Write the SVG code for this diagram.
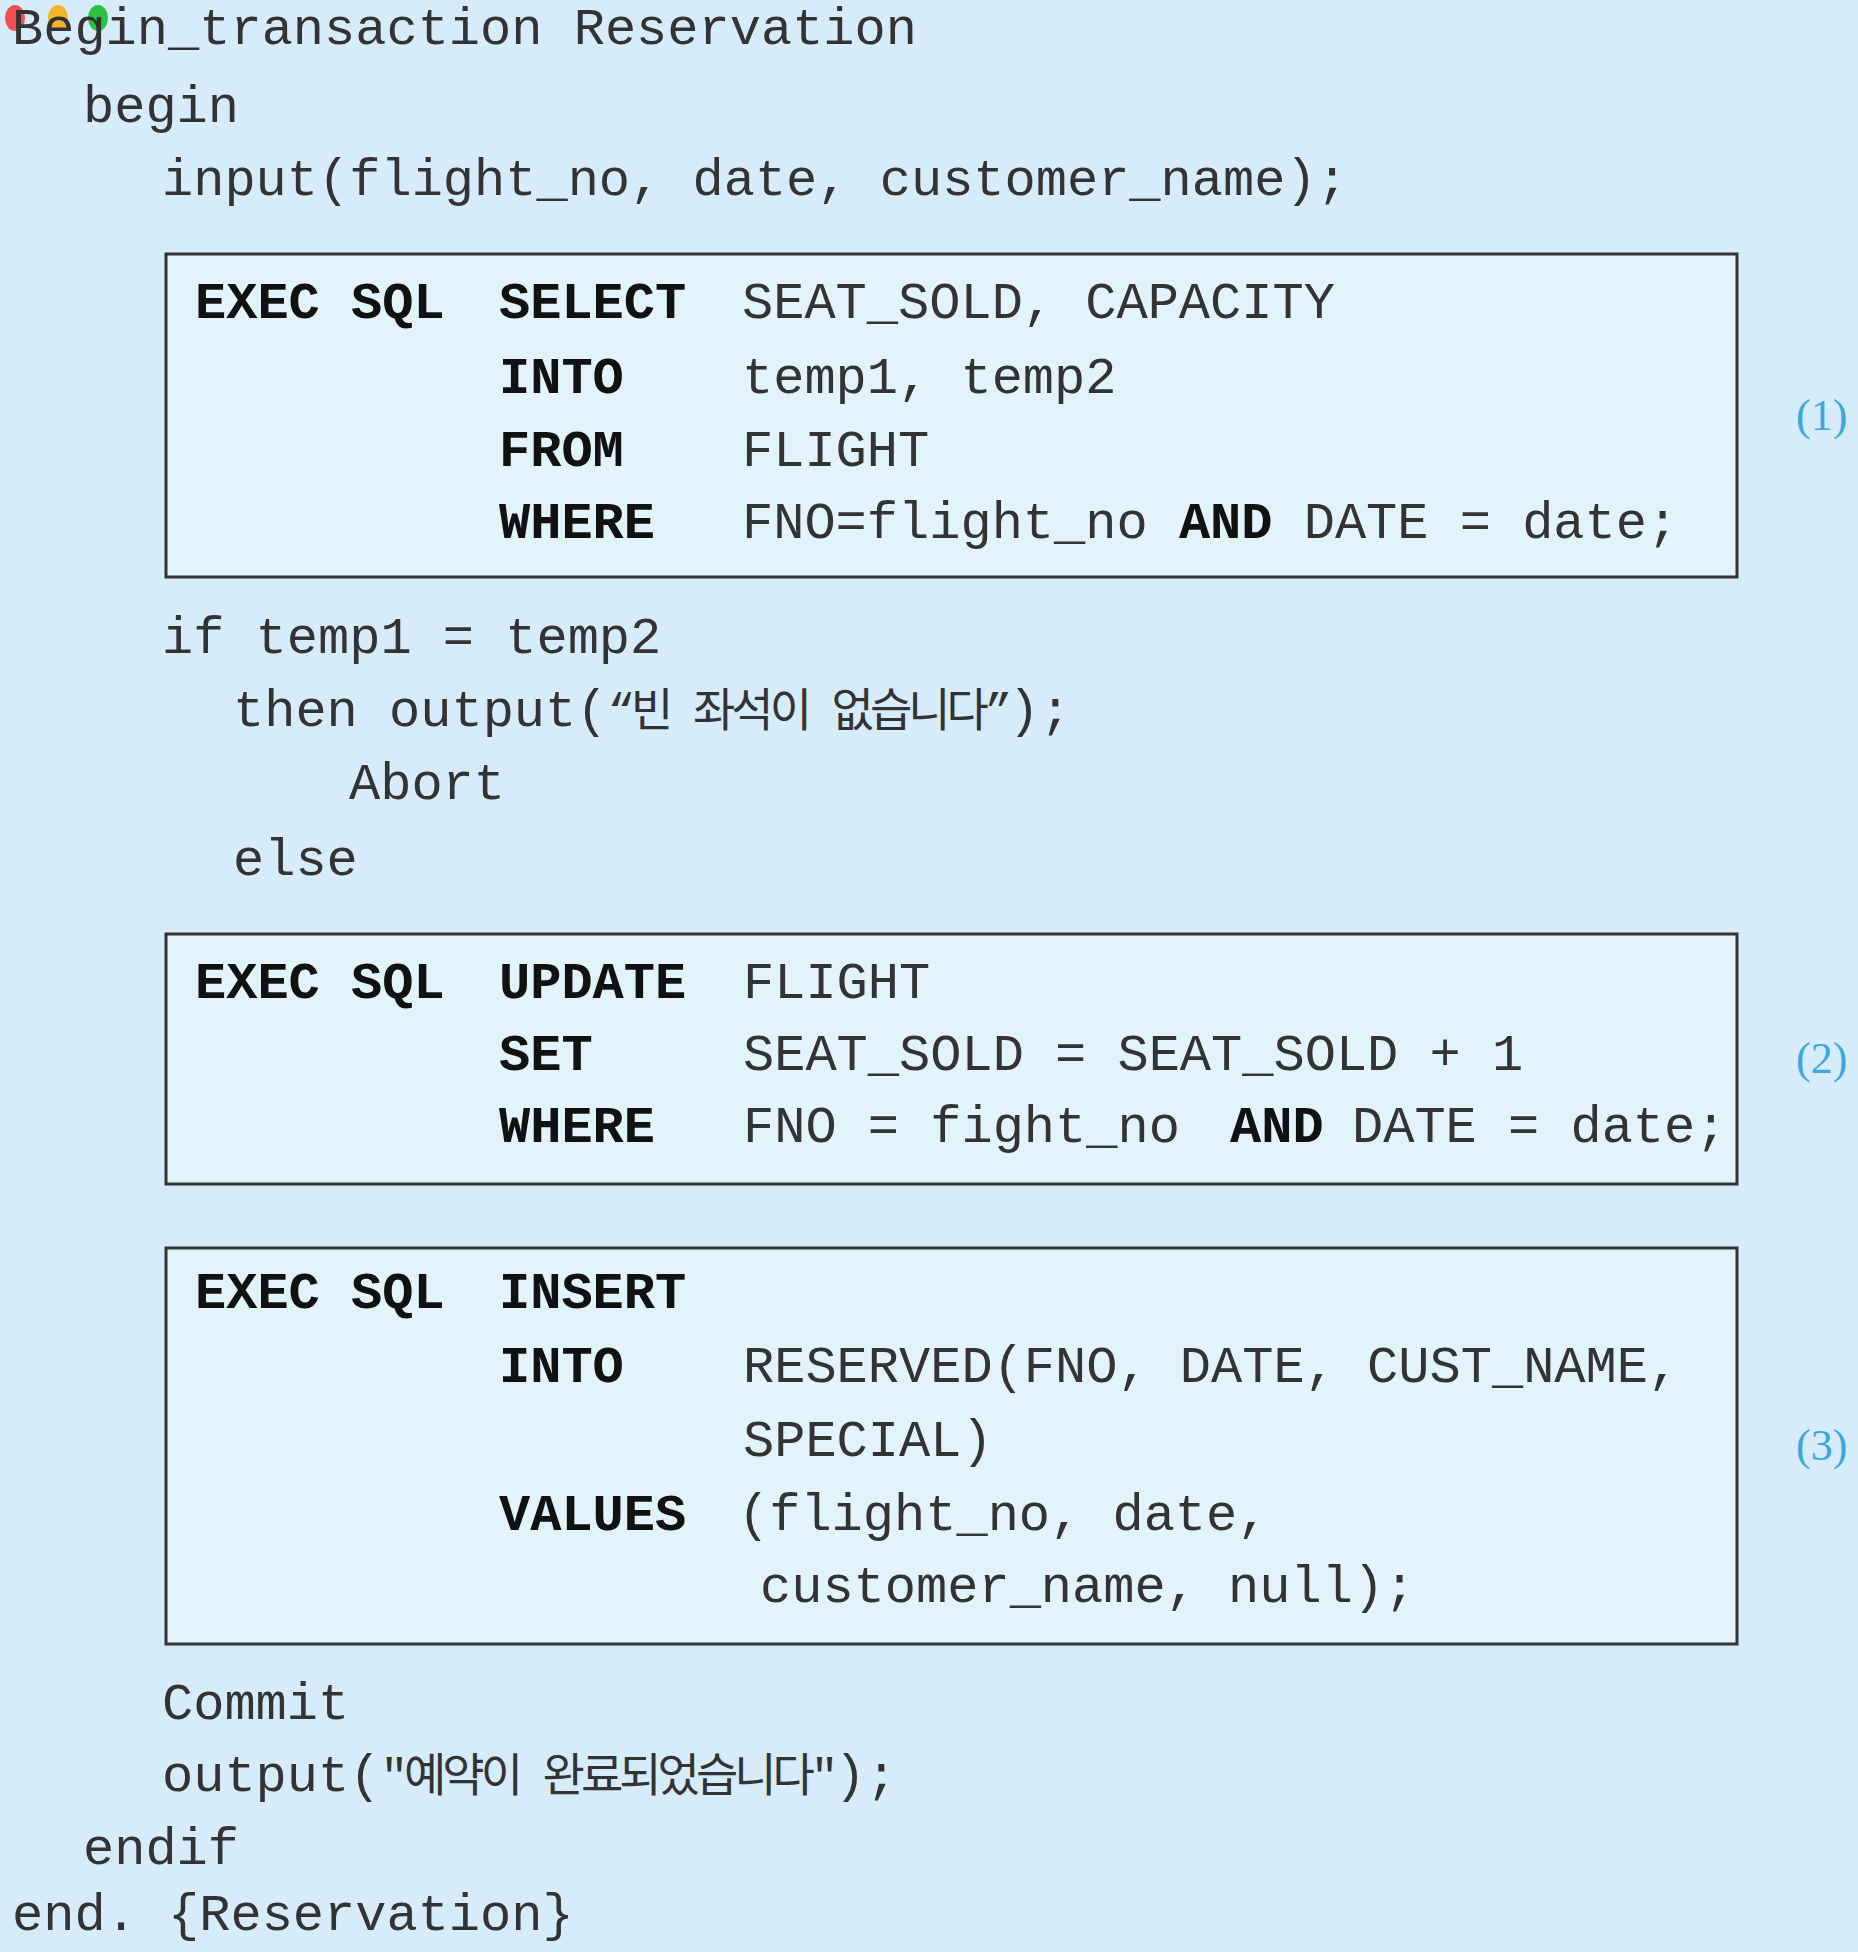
<svg xmlns="http://www.w3.org/2000/svg" width="1858" height="1952" viewBox="0 0 1858 1952">
<style>
text{font-family:"Liberation Mono","Noto Sans CJK KR",monospace;font-size:52px;fill:#333}
.b{font-weight:bold;fill:#111}
.k{font-size:46px;letter-spacing:-4px}
.n{font-family:"Liberation Serif",serif;font-size:44px;fill:#3aa8e0}
.box{fill:#e2f3fc;stroke:#333;stroke-width:3}
</style>
<rect width="1858" height="1952" fill="#d6ecfa"/>
<g id="dots"><ellipse cx="15" cy="18" rx="10" ry="13" fill="#f24e4e"/><ellipse cx="58" cy="18" rx="10" ry="13" fill="#f7b32b"/><ellipse cx="98" cy="18" rx="10" ry="13" fill="#2cc23f"/></g>
<g id="head">
<text x="12" y="44">Begin_transaction Reservation</text>
<text x="83" y="122">begin</text>
<text x="162" y="195">input(flight_no, date, customer_name);</text>
</g>
<g id="box1">
<rect class="box" x="166" y="254" width="1571" height="323"/>
<text class="b" x="195" y="318">EXEC SQL</text>
<text class="b" x="499" y="318">SELECT</text><text x="742" y="318">SEAT_SOLD, CAPACITY</text>
<text class="b" x="499" y="393">INTO</text><text x="742" y="393">temp1, temp2</text>
<text class="b" x="499" y="466">FROM</text><text x="742" y="466">FLIGHT</text>
<text class="b" x="499" y="538">WHERE</text><text x="742" y="538">FNO=flight_no <tspan class="b">AND</tspan> DATE = date;</text>
<text class="n" x="1796" y="430">(1)</text>
</g>
<g id="mid">
<text x="162" y="653">if temp1 = temp2</text>
<text x="233" y="726">then output(<tspan class="k">“빈 좌석이 없습니다”</tspan>);</text>
<text x="349" y="799">Abort</text>
<text x="233" y="875">else</text>
</g>
<g id="box2">
<rect class="box" x="166" y="934" width="1571" height="250"/>
<text class="b" x="195" y="998">EXEC SQL</text>
<text class="b" x="499" y="998">UPDATE</text><text x="743" y="998">FLIGHT</text>
<text class="b" x="499" y="1070">SET</text><text x="743" y="1070">SEAT_SOLD = SEAT_SOLD + 1</text>
<text class="b" x="499" y="1142">WHERE</text><text x="743" y="1142">FNO = fight_no</text><text class="b" x="1230" y="1142">AND</text><text x="1352" y="1142">DATE = date;</text>
<text class="n" x="1796" y="1073">(2)</text>
</g>
<g id="box3">
<rect class="box" x="166" y="1248" width="1571" height="396"/>
<text class="b" x="195" y="1308">EXEC SQL</text>
<text class="b" x="499" y="1308">INSERT</text>
<text class="b" x="499" y="1382">INTO</text><text x="743" y="1382">RESERVED(FNO, DATE, CUST_NAME,</text>
<text x="743" y="1456">SPECIAL)</text>
<text class="b" x="499" y="1530">VALUES</text><text x="738" y="1530">(flight_no, date,</text>
<text x="760" y="1602">customer_name, null);</text>
<text class="n" x="1796" y="1460">(3)</text>
</g>
<g id="tail">
<text x="162" y="1719">Commit</text>
<text x="162" y="1791">output(<tspan class="k">"예약이 완료되었습니다"</tspan>);</text>
<text x="83" y="1864">endif</text>
<text x="12" y="1930">end. {Reservation}</text>
</g>
<g id="connectors"/>
</svg>
